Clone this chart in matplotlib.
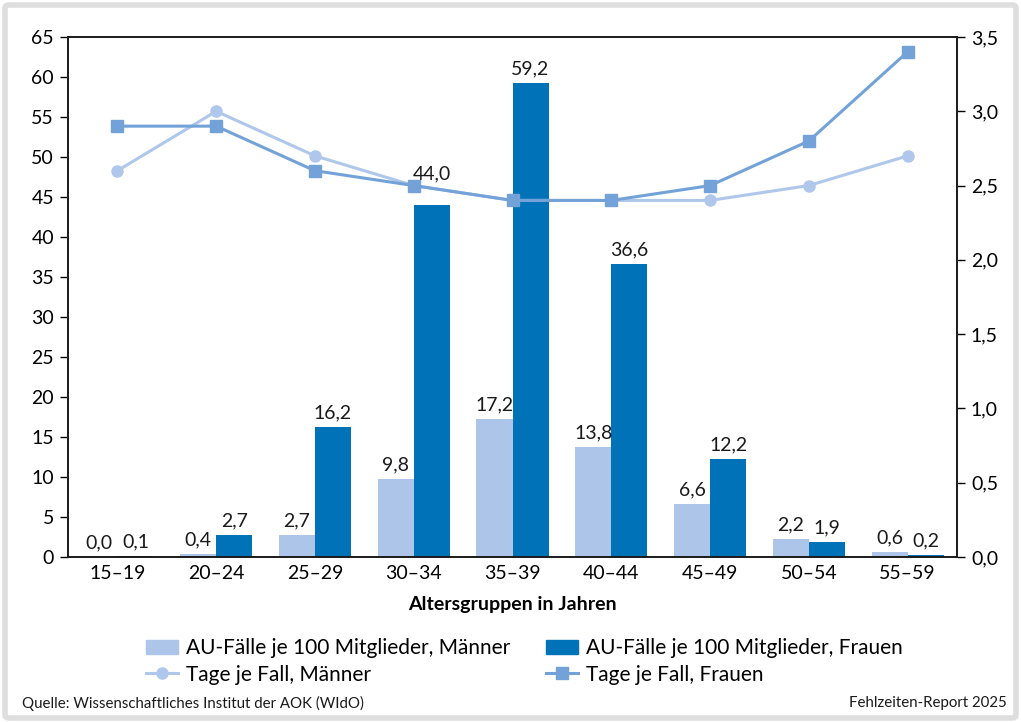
import matplotlib
matplotlib.use('Agg')
import matplotlib.pyplot as plt
from matplotlib.patches import FancyBboxPatch, Patch
from matplotlib.lines import Line2D
from matplotlib.ticker import FuncFormatter
import numpy as np

plt.rcParams['font.family'] = ['Lato', 'DejaVu Sans']

age_groups = ['15–19', '20–24', '25–29', '30–34', '35–39', '40–44', '45–49', '50–54', '55–59']
cases_men = [0.0, 0.4, 2.7, 9.8, 17.2, 13.8, 6.6, 2.2, 0.6]
cases_women = [0.1, 2.7, 16.2, 44.0, 59.2, 36.6, 12.2, 1.9, 0.2]
days_men = [2.6, 3.0, 2.7, 2.5, 2.4, 2.4, 2.4, 2.5, 2.7]
days_women = [2.9, 2.9, 2.6, 2.5, 2.4, 2.4, 2.5, 2.8, 3.4]

c_men_bar = '#adc5e9'
c_women_bar = '#0072b7'
c_men_line = '#aec7ea'
c_women_line = '#72a2d8'

def komma(v, pos=None):
    return f'{v:.1f}'.replace('.', ',')

fig = plt.figure(figsize=(10.21, 7.22), dpi=100)
ax = fig.add_axes([68/1021, 1-557/722, (957-68)/1021, (557-37)/722])

x = np.arange(len(age_groups))
w = 0.365
b1 = ax.bar(x - w/2, cases_men, w, color=c_men_bar, zorder=2)
b2 = ax.bar(x + w/2, cases_women, w, color=c_women_bar, zorder=2)

ax.set_xlim(-0.5, len(age_groups) - 0.5)
ax.set_ylim(0, 65)
ax.set_yticks(range(0, 66, 5))
ax.set_xticks(x)
ax.set_xticklabels(age_groups)
ax.tick_params(axis='x', length=0, labelsize=14, pad=6)
ax.tick_params(axis='y', length=6, width=1, labelsize=14, pad=4)
ax.set_xlabel('Altersgruppen in Jahren', fontsize=14, fontweight='bold', labelpad=10)
for s in ax.spines.values():
    s.set_linewidth(1.2)
    s.set_color('#1a1a1a')

ax2 = ax.twinx()
ax2.set_ylim(0, 3.5)
ax2.set_yticks(np.arange(0, 3.51, 0.5))
ax2.yaxis.set_major_formatter(FuncFormatter(komma))
ax2.tick_params(axis='y', length=6, width=1, labelsize=14, pad=4)
for s in ax2.spines.values():
    s.set_linewidth(1.2)
    s.set_color('#1a1a1a')

ax2.plot(x, days_men, color=c_men_line, lw=2.2, marker='o', markersize=8, zorder=3)
ax2.plot(x, days_women, color=c_women_line, lw=2.2, marker='s', markersize=8.5, zorder=4)

# bar value labels (the 44,0 label sits higher to clear the lines)
extra = {(1, 3): 12}
for j, (bars, vals) in enumerate([(b1, cases_men), (b2, cases_women)]):
    for i, (r, v) in enumerate(zip(bars, vals)):
        ax2.annotate(komma(v), xy=(r.get_x() + r.get_width()/2, v / 65 * 3.5),
                     xytext=(0, 4 + extra.get((j, i), 0)), textcoords='offset points',
                     ha='center', va='bottom', fontsize=14, color='#1a1a1a', zorder=5)

h_men_bar = Patch(color=c_men_bar)
h_women_bar = Patch(color=c_women_bar)
h_men_line = Line2D([], [], color=c_men_line, lw=2.2, marker='o', markersize=8)
h_women_line = Line2D([], [], color=c_women_line, lw=2.2, marker='s', markersize=8.5)

leg_kw = dict(frameon=False, fontsize=15, handlelength=1.5, handletextpad=0.4,
              labelspacing=0.3, loc='upper left', borderaxespad=0)
fig.legend([h_men_bar, h_men_line], ['AU-Fälle je 100 Mitglieder, Männer', 'Tage je Fall, Männer'],
           bbox_to_anchor=(138/1021, 1-630/722), **leg_kw)
fig.legend([h_women_bar, h_women_line], ['AU-Fälle je 100 Mitglieder, Frauen', 'Tage je Fall, Frauen'],
           bbox_to_anchor=(538/1021, 1-630/722), **leg_kw)

fig.text(22/1021, 1-703/722, 'Quelle: Wissenschaftliches Institut der AOK (WIdO)', fontsize=10.8,
         va='center', ha='left', color='#1a1a1a')
fig.text(1007/1021, 1-703/722, 'Fehlzeiten-Report 2025', fontsize=10.8,
         va='center', ha='right', color='#1a1a1a')

frame = FancyBboxPatch((5/1021, 4/722), 1011/1021, 713/722, boxstyle='round,pad=0,rounding_size=0.004',
                       transform=fig.transFigure, fill=False, edgecolor='#dedede', lw=4)
fig.patches.append(frame)

fig.savefig('out.png', dpi=100)
